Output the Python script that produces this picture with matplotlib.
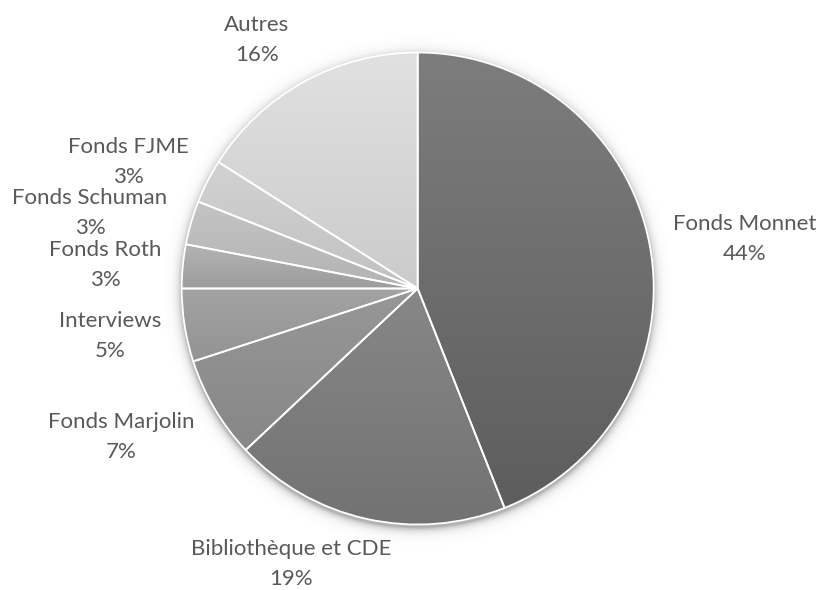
import numpy as np
import matplotlib
matplotlib.use("Agg")
import matplotlib.pyplot as plt

# ---- data ----
categories = ["Fonds Monnet", "Bibliothèque et CDE", "Fonds Marjolin", "Interviews",
              "Fonds Roth", "Fonds Schuman", "Fonds FJME", "Autres"]
shares = [44, 19, 7, 5, 3, 3, 3, 16]
pct_labels = ["44%", "19%", "7%", "5%", "3%", "3%", "3%", "16%"]

# ---- styles / positions (pixel coords, y from top) ----
W, H = 823, 590
top_colors = ["#7d7d7d", "#878787", "#979797", "#a3a3a3", "#b4b4b4", "#c4c4c4", "#d2d2d2", "#e1e1e1"]
bot_colors = ["#5d5d5d", "#727272", "#878787", "#939393", "#9d9d9d", "#b3b3b3", "#c1c1c1", "#cbcbcb"]
label_pos = [(745, 224), (291, 549), (121, 422), (110, 321),
             (105, 250), (90, 198), (128, 147), (257, 25)]
line_gap = 30
pie_center = (417.7, 288.5)
pie_radius = 236
text_color = "#595959"

fig = plt.figure(figsize=(W / 100, H / 100), dpi=100)
ax = fig.add_axes([0, 0, 1, 1])
ax.set_xlim(0, W)
ax.set_ylim(0, H)
ax.set_aspect("equal")
ax.axis("off")

cx, cy = pie_center[0], H - pie_center[1]

# soft shadow behind the pie
xs = np.arange(0, W) + 0.5
ys = np.arange(0, H) + 0.5
X, Y = np.meshgrid(xs, ys)
d = np.sqrt((X - cx) ** 2 + (Y - (cy - 3)) ** 2) - pie_radius
alpha = np.where(d > 0, 0.5 * np.exp(-d / 4.0), 0.5)
shadow = np.zeros((H, W, 4))
shadow[..., :3] = 0.4
shadow[..., 3] = alpha
ax.imshow(shadow, extent=(0, W, 0, H), origin="lower", zorder=0, interpolation="bilinear")

wedges, _ = ax.pie(shares, startangle=90, counterclock=False, center=(cx, cy),
                   radius=pie_radius, frame=True,
                   wedgeprops=dict(facecolor="none", edgecolor="white", linewidth=1.3, zorder=3))
ax.set_xlim(0, W)
ax.set_ylim(0, H)
ax.axis("off")

def hex2rgb(h):
    h = h.lstrip("#")
    return np.array([int(h[i:i + 2], 16) / 255 for i in (0, 2, 4)])

for w, tc, bc in zip(wedges, top_colors, bot_colors):
    verts = w.get_patch_transform().transform(w.get_path().vertices)
    x0, x1 = verts[:, 0].min(), verts[:, 0].max()
    y0, y1 = verts[:, 1].min(), verts[:, 1].max()
    t = np.linspace(0, 1, 256)[:, None]  # 0 bottom -> 1 top
    grad = hex2rgb(bc)[None, :] * (1 - t) + hex2rgb(tc)[None, :] * t
    img = np.repeat(grad[:, None, :], 2, axis=1)
    im = ax.imshow(img, extent=(x0, x1, y0, y1), origin="lower", zorder=2,
                   interpolation="bilinear", aspect="auto")
    im.set_clip_path(w)

ax.set_xlim(0, W)
ax.set_ylim(0, H)

for name, pct, (lx, ly) in zip(categories, pct_labels, label_pos):
    ax.text(lx, H - ly, name, ha="center", va="center", fontsize=16,
            family="Lato", color=text_color, zorder=5)
    ax.text(lx, H - ly - line_gap, pct, ha="center", va="center", fontsize=16,
            family="Lato", color=text_color, zorder=5)

fig.savefig("out.png", dpi=100, facecolor="white")
